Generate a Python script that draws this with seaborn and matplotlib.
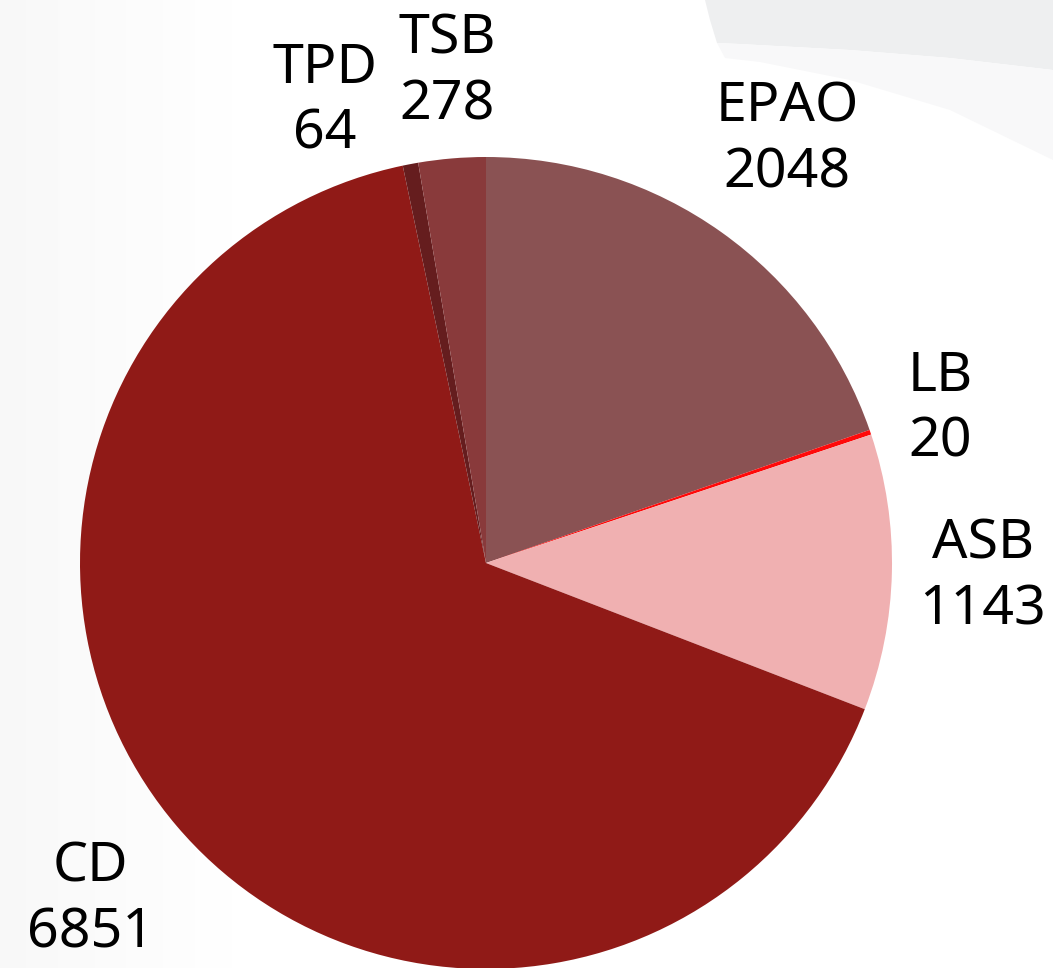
import numpy as np
import matplotlib
matplotlib.use("Agg")
import matplotlib.pyplot as plt
from matplotlib.patches import Polygon
import seaborn as sns

# Case counts by category, in clockwise order starting at 12 o'clock
categories = ["EPAO", "LB", "ASB", "CD", "TPD", "TSB"]
counts = [2048, 20, 1143, 6851, 64, 278]
colors = ["#8A5253", "#FF0A0A", "#F0B0B1", "#901A17", "#651D1E", "#893A3B"]

# Label anchor points (in pie-radius units) for each category
label_x = [0.741, 1.118, 1.224, -0.975, -0.397, -0.096]
label_y = [1.042, 0.379, -0.034, -0.830, 1.138, 1.209]

sns.set_theme(style="white")
plt.rcParams["font.family"] = ["Noto Sans", "DejaVu Sans"]

W, H, DPI = 1053, 968, 100
fig = plt.figure(figsize=(W / DPI, H / DPI), dpi=DPI)
fig.patch.set_facecolor("white")
ax = fig.add_axes([0, 0, 1, 1])

# Pixel geometry of the pie: centre and radius
cx, cy, r = 486, 563, 406
ax.set_xlim(-cx / r, (W - cx) / r)
ax.set_ylim(-(H - cy) / r, cy / r)
ax.set_aspect("auto")
ax.axis("off")

# Soft backdrop: faint grey sweep at the top right and a light wash on the left
bg = np.ones((200, 200))
xx = np.linspace(0, 1, 200)
wash = 1 - 0.03 * np.clip(1 - xx / 0.25, 0, 1)
bg = bg * wash[None, :]
ax.imshow(bg, extent=[-cx / r, (W - cx) / r, -(H - cy) / r, cy / r],
          cmap="gray", vmin=0, vmax=1, aspect="auto", zorder=0)

def px(x, y):
    return ((x - cx) / r, (cy - y) / r)

band_top = [px(705, 0), px(1053, 0), px(1053, 70), px(950, 58), px(850, 50), px(740, 44), px(717, 43), px(710, 20)]
ax.add_patch(Polygon(band_top, closed=True, facecolor="#eeeff0", edgecolor="none", zorder=0.5))
band_low = [px(717, 43), px(740, 44), px(850, 50), px(950, 58), px(1053, 70), px(1053, 160),
            px(950, 110), px(850, 80), px(760, 62), px(725, 58)]
ax.add_patch(Polygon(band_low, closed=True, facecolor="#f8f8f9", edgecolor="none", zorder=0.5))

wedges, _ = ax.pie(counts, colors=colors, startangle=90, counterclock=False,
                   radius=1.0, center=(0, 0), frame=True,
                   wedgeprops=dict(linewidth=0, edgecolor="none"))
for w in wedges:
    w.set_zorder(2)
ax.set_xlim(-cx / r, (W - cx) / r)
ax.set_ylim(-(H - cy) / r, cy / r)
ax.axis("off")

for name, val, lx, ly in zip(categories, counts, label_x, label_y):
    ax.text(lx, ly, f"{name}\n{val}", ha="center", va="center",
            fontsize=40, color="black", linespacing=1.25, zorder=3)

fig.savefig("out.png", dpi=DPI, facecolor=fig.get_facecolor())
